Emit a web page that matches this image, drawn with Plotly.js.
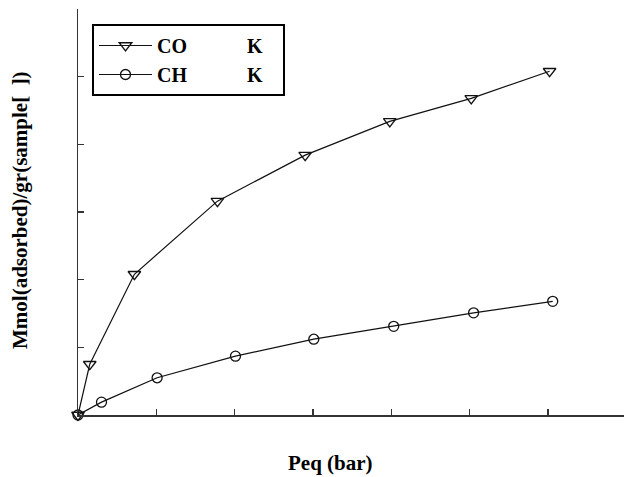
<!DOCTYPE html>
<html>
<head>
<meta charset="utf-8">
<script src="https://cdn.plot.ly/plotly-3.0.1.min.js"></script>
<style>
  html, body { margin: 0; padding: 0; background: #fff; }
  #chart { width: 624px; height: 477px; }
</style>
</head>
<body>
<div id="chart"></div>
<script>
// Equilibrium pressure (bar) and amount adsorbed for each gas
const co2Pressure = [0, 0.15, 0.72, 1.78, 2.90, 3.98, 5.02, 6.02];
const co2Uptake   = [0, 0.75, 2.08, 3.16, 3.84, 4.34, 4.68, 5.08];
const ch4Pressure = [0, 0.30, 1.01, 2.01, 3.01, 4.03, 5.05, 6.06];
const ch4Uptake   = [0, 0.19, 0.55, 0.87, 1.12, 1.31, 1.51, 1.68];

const gap = '\u00A0'.repeat(12);
const tail = '\u00A0'.repeat(3);
const seriesNames = ['CO' + gap + 'K' + tail, 'CH' + gap + 'K' + tail];
const xTitle = 'Peq (bar)';
const yTitle = 'Mmol(adsorbed)/gr(sample[\u00A0\u00A0])';

const serif = '"Liberation Serif", "Times New Roman", serif';

const traces = [
  {
    x: co2Pressure, y: co2Uptake, name: seriesNames[0],
    mode: 'lines+markers', cliponaxis: false,
    line: {color: '#111', width: 1.2},
    marker: {symbol: 'triangle-down-open', size: 11, color: '#111', line: {width: 1.3}}
  },
  {
    x: ch4Pressure, y: ch4Uptake, name: seriesNames[1],
    mode: 'lines+markers', cliponaxis: false,
    line: {color: '#111', width: 1.2},
    marker: {symbol: 'circle-open', size: 10, color: '#111', line: {width: 1.3}}
  }
];

const axisCommon = {
  showgrid: false, zeroline: false, showticklabels: false,
  showline: true, linecolor: '#333', linewidth: 1.5,
  ticks: 'inside', ticklen: 6, tickwidth: 1.3, tickcolor: '#333'
};

const layout = {
  width: 624, height: 477,
  margin: {l: 78, r: 0, t: 9, b: 62},
  paper_bgcolor: '#fff', plot_bgcolor: '#fff',
  font: {family: serif, color: '#000'},
  showlegend: true,
  legend: {
    x: (92 - 78) / 546, y: (415 - 24) / 406, xanchor: 'left', yanchor: 'top',
    bordercolor: '#000', borderwidth: 2, bgcolor: '#fff',
    font: {family: serif, size: 20, weight: 'bold', color: '#000'},
    itemwidth: 53, tracegroupgap: 0
  },
  xaxis: Object.assign({range: [0, 6.97], dtick: 1, tick0: 0}, axisCommon),
  yaxis: Object.assign({range: [0, 6], dtick: 1, tick0: 0}, axisCommon),
  annotations: [
    {
      text: '<b>' + xTitle + '</b>', xref: 'paper', yref: 'paper',
      x: (330 - 78) / 546, y: -48 / 406, xanchor: 'center', yanchor: 'middle',
      showarrow: false, font: {family: serif, size: 21, color: '#000'}
    },
    {
      text: '<b>' + yTitle + '</b>', xref: 'paper', yref: 'paper',
      x: (20 - 78) / 546, y: (415 - 210) / 406, xanchor: 'center', yanchor: 'middle',
      textangle: -90, showarrow: false, font: {family: serif, size: 21, color: '#000'}
    }
  ]
};

Plotly.newPlot('chart', traces, layout, {displayModeBar: false, staticPlot: true});
</script>
</body>
</html>
